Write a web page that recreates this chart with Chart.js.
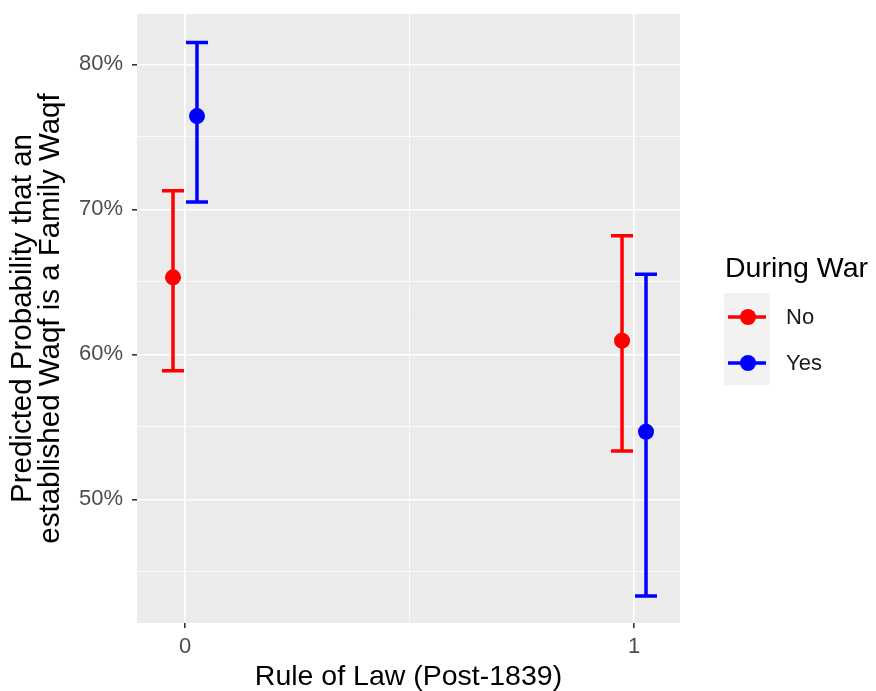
<!DOCTYPE html>
<html>
<head>
<meta charset="utf-8">
<script src="https://cdn.jsdelivr.net/npm/chart.js@4/dist/chart.umd.min.js"></script>
<style>
  html, body { margin: 0; padding: 0; background: #ffffff; }
  #wrap { width: 876px; height: 691px; }
</style>
</head>
<body>
<div id="wrap"><canvas id="c" width="876" height="691"></canvas></div>
<script>
// ---- data ----
const categories = [0, 1];                 // Rule of Law (Post-1839)
const seriesNames = ["No", "Yes"];        // During War
const noEstimate = [65.31, 60.94];
const noLower    = [58.87, 53.33];
const noUpper    = [71.28, 68.18];
const yesEstimate = [76.43, 54.66];
const yesLower    = [70.50, 43.33];
const yesUpper    = [81.50, 65.52];
const yTickValues = [45, 50, 55, 60, 65, 70, 75, 80];
const yTickLabels = ["", "50%", "", "60%", "", "70%", "", "80%"];
const xTickValues = [0, 0.5, 1];
const xTickLabels = ["0", "", "1"];

// ---- presentation constants ----
const DODGE = 0.0267;
const CAP_HALF = 0.0245;
const colors = ["#FF0000", "#0000FF"];
const FONT = "'Liberation Sans', Arial, sans-serif";

const seriesEst = [noEstimate, yesEstimate];
const seriesLow = [noLower, yesLower];
const seriesHigh = [noUpper, yesUpper];

const datasets = seriesNames.map((name, s) => ({
  label: name,
  data: categories.map((c, i) => ({ x: c + (s === 0 ? -DODGE : DODGE), y: seriesEst[s][i] })),
  low: seriesLow[s],
  high: seriesHigh[s],
  backgroundColor: colors[s],
  borderColor: colors[s],
  pointRadius: 8,
  pointBorderWidth: 0,
  pointHoverRadius: 8,
  showLine: false
}));

const panelBg = {
  id: 'panelBg',
  beforeDraw(chart) {
    const { ctx, chartArea: a } = chart;
    ctx.save();
    ctx.fillStyle = '#EBEBEB';
    ctx.fillRect(a.left, a.top, a.right - a.left, a.bottom - a.top);
    ctx.restore();
  }
};

const errorBars = {
  id: 'errorBars',
  beforeDatasetsDraw(chart) {
    const { ctx, scales: { x, y } } = chart;
    ctx.save();
    ctx.lineWidth = 3.5;
    ctx.lineCap = 'butt';
    chart.data.datasets.forEach((ds) => {
      ctx.strokeStyle = ds.borderColor;
      ds.data.forEach((p, i) => {
        const px = x.getPixelForValue(p.x);
        const pl = x.getPixelForValue(p.x - CAP_HALF);
        const pr = x.getPixelForValue(p.x + CAP_HALF);
        const yl = y.getPixelForValue(ds.low[i]);
        const yh = y.getPixelForValue(ds.high[i]);
        ctx.beginPath();
        ctx.moveTo(px, yl); ctx.lineTo(px, yh);
        ctx.moveTo(pl, yl); ctx.lineTo(pr, yl);
        ctx.moveTo(pl, yh); ctx.lineTo(pr, yh);
        ctx.stroke();
      });
    });
    ctx.restore();
  }
};

const ggLegend = {
  id: 'ggLegend',
  afterDraw(chart) {
    const ctx = chart.ctx;
    ctx.save();
    ctx.fillStyle = '#000000';
    ctx.font = "28.5px " + FONT;
    ctx.textBaseline = 'alphabetic';
    ctx.textAlign = 'left';
    ctx.fillText("During War", 725, 277);
    const boxX = 724, boxY = 293, boxW = 46, keyH = 46;
    ctx.fillStyle = '#F2F2F2';
    ctx.fillRect(boxX, boxY, boxW, keyH * seriesNames.length);
    seriesNames.forEach((name, s) => {
      const cy = boxY + keyH * s + keyH / 2 + 1;
      ctx.strokeStyle = colors[s];
      ctx.lineWidth = 3.5;
      ctx.beginPath();
      ctx.moveTo(boxX + 4, cy); ctx.lineTo(boxX + boxW - 4, cy);
      ctx.stroke();
      ctx.fillStyle = colors[s];
      ctx.beginPath();
      ctx.arc(boxX + boxW / 2 + 1, cy, 8, 0, Math.PI * 2);
      ctx.fill();
      ctx.fillStyle = '#1A1A1A';
      ctx.font = "22px " + FONT;
      ctx.textBaseline = 'middle';
      ctx.fillText(name, 786, cy + 1);
    });
    ctx.restore();
  }
};

const isMajorY = v => v % 10 === 0;
const isMajorX = v => v === 0 || v === 1;

new Chart(document.getElementById('c'), {
  type: 'scatter',
  data: { datasets },
  plugins: [panelBg, errorBars, ggLegend],
  options: {
    responsive: false,
    devicePixelRatio: 1,
    animation: false,
    events: [],
    layout: { padding: { top: 14, right: 196, bottom: 0, left: 0 } },
    plugins: { legend: { display: false }, tooltip: { enabled: false } },
    scales: {
      x: {
        type: 'linear',
        min: -0.1069,
        max: 1.1024,
        afterFit(scale) { scale.height = 68; scale.paddingLeft = 0; scale.paddingRight = 0; },
        afterBuildTicks(scale) { scale.ticks = xTickValues.map(v => ({ value: v })); },
        border: { display: false },
        grid: {
          color: '#FFFFFF',
          lineWidth: c => isMajorX(c.tick.value) ? 1.6 : 0.8,
          tickColor: c => isMajorX(c.tick.value) ? '#333333' : 'rgba(0,0,0,0)',
          tickWidth: 1.6,
          tickLength: 5,
          drawTicks: true
        },
        ticks: {
          autoSkip: false,
          maxRotation: 0,
          padding: 6,
          color: '#4D4D4D',
          font: { family: FONT, size: 22 },
          callback: (v) => xTickLabels[xTickValues.indexOf(v)] ?? ''
        },
        title: {
          display: true,
          text: 'Rule of Law (Post-1839)',
          color: '#000000',
          font: { family: FONT, size: 28.5, lineHeight: 1 },
          padding: { top: 0, bottom: 0 }
        }
      },
      y: {
        type: 'linear',
        min: 41.47,
        max: 83.47,
        afterFit(scale) { scale.width = 137; scale.paddingTop = 0; scale.paddingBottom = 0; },
        afterBuildTicks(scale) { scale.ticks = yTickValues.map(v => ({ value: v })); },
        border: { display: false },
        grid: {
          color: '#FFFFFF',
          lineWidth: c => isMajorY(c.tick.value) ? 1.6 : 0.8,
          tickColor: c => isMajorY(c.tick.value) ? '#333333' : 'rgba(0,0,0,0)',
          tickWidth: 1.6,
          tickLength: 5,
          drawTicks: true
        },
        ticks: {
          autoSkip: false,
          padding: 9,
          color: '#4D4D4D',
          font: { family: FONT, size: 22 },
          callback: (v) => yTickLabels[yTickValues.indexOf(v)] ?? ''
        },
        title: {
          display: true,
          text: ['Predicted Probability that an', 'established Waqf is a Family Waqf'],
          color: '#000000',
          font: { family: FONT, size: 29.5, lineHeight: 0.95 },
          padding: { top: 9, bottom: 0 }
        }
      }
    }
  }
});
</script>
</body>
</html>
